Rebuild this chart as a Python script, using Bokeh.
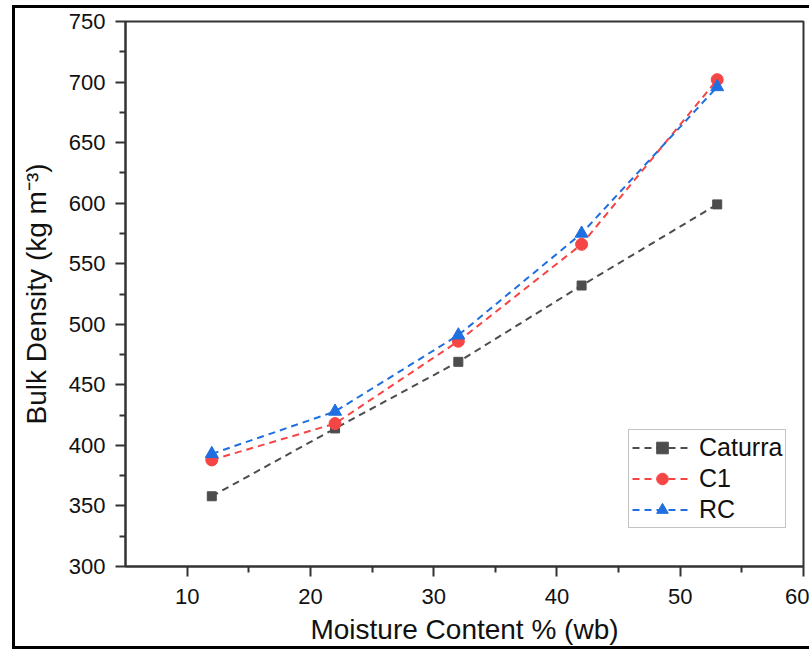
from bokeh.plotting import figure
from bokeh.models import Range1d, FixedTicker, Legend, LegendItem
from bokeh.embed import file_html
from bokeh.resources import INLINE

# ---- data ----
moisture = [12, 22, 32, 42, 53]
caturra = [358, 414, 469, 532, 599]
c1 = [388, 418, 486, 566, 702]
rc = [393, 428, 491, 575, 696]
series_names = ["Caturra", "C1", "RC"]
x_ticks = [10, 20, 30, 40, 50, 60]
x_minor = [15, 25, 35, 45, 55]
y_ticks = [300, 350, 400, 450, 500, 550, 600, 650, 700, 750]
y_minor = [325, 375, 425, 475, 525, 575, 625, 675, 725]

colors = ["#4d4d4d", "#f64545", "#1f6fe0"]
markers = ["square", "circle", "triangle"]
msizes = [9, 12, 13]
FONT = "Liberation Sans"

p = figure(width=797, height=644, output_backend="svg", toolbar_location=None,
           x_range=Range1d(5, 60), y_range=Range1d(300, 750),
           min_border_left=110, min_border_right=9, min_border_top=13,
           min_border_bottom=86)
p.styles = {"border-left": "3px solid black", "border-top": "3px solid black",
            "border-bottom": "3px solid black", "margin-left": "12px",
            "margin-top": "5px"}
p.grid.visible = False
p.outline_line_color = "#333333"
p.outline_line_width = 2

for ax, maj, mnr in ((p.xaxis[0], x_ticks, x_minor), (p.yaxis[0], y_ticks, y_minor)):
    ax.ticker = FixedTicker(ticks=maj, minor_ticks=mnr)
    ax.axis_line_color = "#333333"
    ax.axis_line_width = 2
    ax.major_tick_line_color = "#333333"
    ax.major_tick_line_width = 2
    ax.minor_tick_line_color = "#333333"
    ax.minor_tick_line_width = 2
    ax.major_tick_in = 0
    ax.major_tick_out = 10
    ax.minor_tick_in = 0
    ax.minor_tick_out = 6
    ax.major_label_text_font = FONT
    ax.major_label_text_font_size = "22px"
    ax.major_label_text_color = "#111111"
    ax.axis_label_text_font = FONT
    ax.axis_label_text_font_size = "28px"
    ax.axis_label_text_font_style = "normal"
    ax.axis_label_text_color = "#111111"

p.xaxis.major_label_standoff = 12
p.yaxis.major_label_standoff = 10
p.xaxis.axis_label = "Moisture Content % (wb)"
p.yaxis.axis_label = "Bulk Density (kg m\u207b\u00b3)"
p.xaxis.axis_label_standoff = 7
p.yaxis.axis_label_standoff = 14

items = []
for name, ys, col, mk, ms in zip(series_names, [caturra, c1, rc], colors, markers, msizes):
    lr = p.line(moisture, ys, line_color=col, line_width=2, line_dash="7 5")
    sr = p.scatter(moisture, ys, marker=mk, size=ms, fill_color=col, line_color=col)
    items.append(LegendItem(label=name, renderers=[lr, sr]))

legend = Legend(items=items, location=(503, 38))
legend.label_text_font = FONT
legend.label_text_font_size = "25px"
legend.label_text_color = "#111111"
legend.glyph_width = 60
legend.glyph_height = 29
legend.label_height = 29
legend.spacing = 2
legend.padding = 3
legend.margin = 0
legend.label_standoff = 7
legend.border_line_color = "#888888"
legend.border_line_width = 1.5
legend.background_fill_alpha = 1
p.add_layout(legend)

open("out.html", "w").write(file_html(p, INLINE))
